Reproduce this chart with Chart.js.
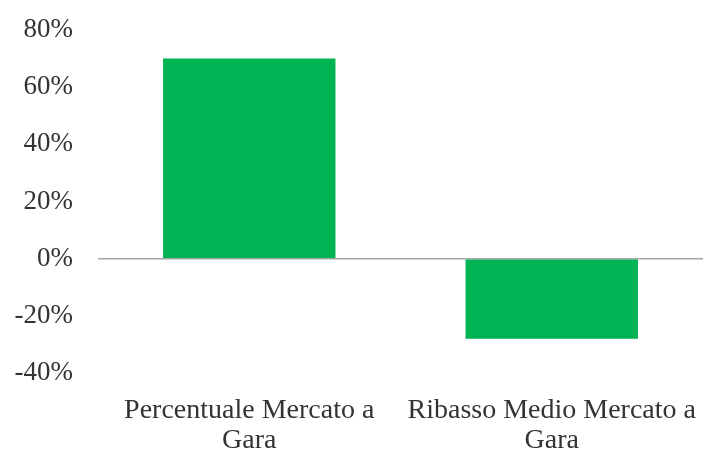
<!DOCTYPE html>
<html>
<head>
<meta charset="utf-8">
<script src="https://cdn.jsdelivr.net/npm/chart.js@4"></script>
<style>
  html, body { margin: 0; padding: 0; background: #fff; }
  #wrap { width: 706px; height: 450px; }
</style>
</head>
<body>
<div id="wrap"><canvas id="myChart" width="706" height="450"></canvas></div>
<script>
'use strict';
// data
var categories = [['Percentuale Mercato a', 'Gara'], ['Ribasso Medio Mercato a', 'Gara']];
var values = [70, -28];
var yTicks = [-40, -20, 0, 20, 40, 60, 80];

var textColor = '#333333';
var serif = "'Liberation Serif', 'DejaVu Serif', serif";

var ctx = document.getElementById('myChart');
var myChart = new Chart(ctx, {
  type: 'bar',
  data: {
    labels: categories,
    datasets: [{
      data: values,
      backgroundColor: '#00b454',
      borderWidth: 0,
      barPercentage: 0.57,
      categoryPercentage: 1
    }]
  },
  options: {
    responsive: false,
    animation: false,
    layout: { padding: { top: 30, right: 3, left: 0, bottom: 0 } },
    plugins: { legend: { display: false }, tooltip: { enabled: false } },
    scales: {
      x: {
        grid: { display: false, drawTicks: false },
        border: { display: false },
        ticks: {
          color: textColor,
          font: { family: serif, size: 28, lineHeight: 1.07 },
          padding: 23,
          maxRotation: 0,
          autoSkip: false
        },
        afterFit: function(scale) {
          scale.height = 77;
          scale.paddingLeft = 0;
          scale.paddingRight = 0;
        }
      },
      y: {
        min: -40,
        max: 80,
        afterBuildTicks: function(scale) {
          scale.ticks = yTicks.map(function(v) { return { value: v }; });
        },
        grid: {
          drawTicks: false,
          lineWidth: 1.5,
          color: function(c) { return c.tick && c.tick.value === 0 ? '#a6a6a6' : 'rgba(0,0,0,0)'; }
        },
        border: { display: false },
        ticks: {
          color: textColor,
          font: { family: serif, size: 27 },
          padding: 25,
          callback: function(v) { return v + '%'; }
        },
        afterFit: function(scale) {
          scale.width = 98;
          scale.paddingTop = 0;
          scale.paddingBottom = 0;
        }
      }
    }
  }
});
</script>
</body>
</html>
